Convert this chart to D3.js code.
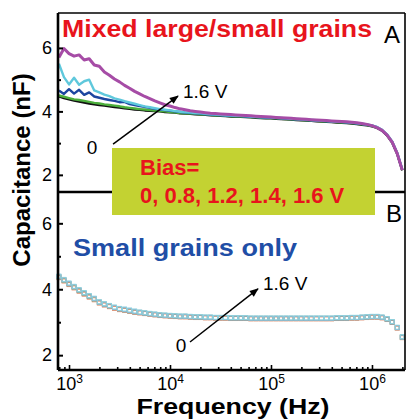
<!DOCTYPE html>
<html>
<head>
<meta charset="utf-8">
<script src="https://d3js.org/d3.v7.min.js"></script>
<style>
  body { margin: 0; background: #fff; }
  svg { display: block; font-family: "Liberation Sans", Arial, sans-serif; }
</style>
</head>
<body>
<div id="chart"></div>
<script>
//frequency grid, as log10(Hz)
var freqExp = [
  2.90, 2.95, 3.00, 3.05, 3.10, 3.15, 3.20, 3.25, 3.30, 3.35,
  3.40, 3.45, 3.50, 3.55, 3.60, 3.65, 3.70, 3.75, 3.80, 3.85,
  3.90, 3.95, 4.00, 4.05, 4.10, 4.15, 4.20, 4.25, 4.30, 4.35,
  4.40, 4.45, 4.50, 4.55, 4.60, 4.65, 4.70, 4.75, 4.80, 4.85,
  4.90, 4.95, 5.00, 5.05, 5.10, 5.15, 5.20, 5.25, 5.30, 5.35,
  5.40, 5.45, 5.50, 5.55, 5.60, 5.65, 5.70, 5.75, 5.80, 5.85,
  5.90, 5.95, 6.00, 6.05, 6.10, 6.15, 6.20, 6.25, 6.30
];

var biasValues = ["0", "0.8", "1.2", "1.4", "1.6"];

//panel A: mixed large/small grains (nF)
var mixed0V = [
  4.47, 4.42, 4.38, 4.34, 4.31, 4.28, 4.25, 4.22, 4.20, 4.18,
  4.16, 4.14, 4.12, 4.10, 4.08, 4.06, 4.05, 4.03, 4.02, 4.01,
  4.00, 3.98, 3.97, 3.96, 3.94, 3.93, 3.92, 3.91, 3.90, 3.89,
  3.88, 3.87, 3.86, 3.85, 3.84, 3.83, 3.83, 3.82, 3.81, 3.80,
  3.79, 3.78, 3.78, 3.77, 3.76, 3.75, 3.74, 3.73, 3.72, 3.71,
  3.70, 3.69, 3.68, 3.67, 3.66, 3.65, 3.64, 3.63, 3.62, 3.60,
  3.58, 3.56, 3.53, 3.48, 3.39, 3.24, 3.02, 2.66, 2.14
];
var mixed08V = [
  4.50, 4.46, 4.42, 4.38, 4.36, 4.33, 4.30, 4.27, 4.25, 4.22,
  4.20, 4.18, 4.16, 4.13, 4.11, 4.09, 4.07, 4.06, 4.04, 4.03,
  4.01, 4.00, 3.98, 3.97, 3.95, 3.94, 3.93, 3.92, 3.91, 3.90,
  3.89, 3.88, 3.87, 3.86, 3.85, 3.84, 3.84, 3.83, 3.82, 3.81,
  3.80, 3.79, 3.79, 3.78, 3.77, 3.76, 3.75, 3.74, 3.73, 3.72,
  3.71, 3.70, 3.69, 3.68, 3.67, 3.66, 3.65, 3.64, 3.63, 3.61,
  3.59, 3.57, 3.54, 3.49, 3.40, 3.25, 3.03, 2.67, 2.15
];
var mixed12V = [
  4.66, 4.55, 4.70, 4.56, 4.68, 4.52, 4.60, 4.47, 4.43, 4.39,
  4.36, 4.33, 4.29, 4.30, 4.23, 4.20, 4.17, 4.14, 4.11, 4.08,
  4.06, 4.04, 4.02, 4.00, 3.98, 3.96, 3.95, 3.94, 3.93, 3.91,
  3.90, 3.89, 3.88, 3.87, 3.86, 3.85, 3.85, 3.84, 3.83, 3.82,
  3.81, 3.80, 3.80, 3.79, 3.78, 3.77, 3.76, 3.75, 3.74, 3.73,
  3.72, 3.71, 3.70, 3.69, 3.68, 3.67, 3.66, 3.65, 3.64, 3.62,
  3.60, 3.58, 3.55, 3.50, 3.41, 3.26, 3.04, 2.68, 2.16
];
var mixed14V = [
  5.50, 5.08, 4.85, 5.06, 4.84, 4.95, 5.00, 4.66, 4.60, 4.53,
  4.48, 4.41, 4.37, 4.32, 4.28, 4.24, 4.20, 4.16, 4.13, 4.10,
  4.07, 4.05, 4.03, 4.01, 3.99, 3.97, 3.96, 3.95, 3.94, 3.92,
  3.91, 3.90, 3.89, 3.88, 3.87, 3.86, 3.86, 3.85, 3.84, 3.83,
  3.82, 3.81, 3.81, 3.80, 3.79, 3.78, 3.77, 3.76, 3.75, 3.74,
  3.73, 3.72, 3.71, 3.70, 3.69, 3.68, 3.67, 3.66, 3.65, 3.63,
  3.61, 3.59, 3.56, 3.51, 3.42, 3.27, 3.05, 2.69, 2.17
];
var mixed16V = [
  5.70, 5.98, 5.82, 5.74, 5.78, 5.62, 5.66, 5.46, 5.42, 5.24,
  5.14, 5.02, 4.93, 4.82, 4.73, 4.63, 4.55, 4.47, 4.40, 4.33,
  4.27, 4.21, 4.17, 4.12, 4.08, 4.05, 4.02, 4.00, 3.98, 3.96,
  3.94, 3.93, 3.92, 3.91, 3.90, 3.89, 3.88, 3.87, 3.86, 3.85,
  3.84, 3.83, 3.82, 3.81, 3.80, 3.79, 3.78, 3.77, 3.76, 3.75,
  3.74, 3.73, 3.72, 3.71, 3.70, 3.69, 3.68, 3.67, 3.66, 3.64,
  3.62, 3.59, 3.55, 3.49, 3.40, 3.25, 3.03, 2.67, 2.15
];

//panel B: small grains only (nF)
var small0V = [
  4.35, 4.25, 4.14, 4.04, 3.94, 3.85, 3.76, 3.68, 3.58, 3.52,
  3.47, 3.42, 3.38, 3.36, 3.33, 3.30, 3.28, 3.26, 3.24, 3.22,
  3.20, 3.19, 3.18, 3.17, 3.16, 3.16, 3.15, 3.14, 3.14, 3.13,
  3.13, 3.12, 3.12, 3.12, 3.11, 3.11, 3.11, 3.11, 3.10, 3.10,
  3.10, 3.10, 3.10, 3.10, 3.10, 3.10, 3.10, 3.10, 3.10, 3.10,
  3.10, 3.10, 3.10, 3.10, 3.10, 3.11, 3.11, 3.11, 3.12, 3.12,
  3.13, 3.14, 3.15, 3.15, 3.13, 3.08, 2.99, 2.82, 2.53
];
var small08V = [
  4.37, 4.27, 4.16, 4.06, 3.96, 3.87, 3.78, 3.70, 3.60, 3.54,
  3.49, 3.44, 3.40, 3.37, 3.34, 3.31, 3.29, 3.27, 3.25, 3.23,
  3.21, 3.20, 3.19, 3.18, 3.17, 3.17, 3.16, 3.15, 3.15, 3.14,
  3.14, 3.13, 3.13, 3.13, 3.12, 3.12, 3.12, 3.12, 3.11, 3.11,
  3.11, 3.11, 3.11, 3.11, 3.11, 3.11, 3.11, 3.11, 3.11, 3.11,
  3.11, 3.11, 3.11, 3.11, 3.11, 3.12, 3.12, 3.12, 3.13, 3.13,
  3.14, 3.15, 3.16, 3.16, 3.14, 3.09, 3.00, 2.83, 2.54
];
var small12V = [
  4.38, 4.28, 4.17, 4.07, 3.97, 3.88, 3.79, 3.71, 3.61, 3.55,
  3.50, 3.45, 3.41, 3.38, 3.35, 3.32, 3.30, 3.28, 3.26, 3.24,
  3.22, 3.21, 3.20, 3.19, 3.18, 3.18, 3.17, 3.16, 3.16, 3.15,
  3.15, 3.14, 3.14, 3.14, 3.13, 3.13, 3.13, 3.13, 3.12, 3.12,
  3.12, 3.12, 3.12, 3.12, 3.12, 3.12, 3.12, 3.12, 3.12, 3.12,
  3.12, 3.12, 3.12, 3.12, 3.12, 3.13, 3.13, 3.13, 3.14, 3.14,
  3.15, 3.16, 3.17, 3.17, 3.15, 3.10, 3.01, 2.84, 2.55
];
var small14V = [
  4.39, 4.29, 4.18, 4.08, 3.98, 3.89, 3.80, 3.72, 3.61, 3.55,
  3.50, 3.45, 3.41, 3.39, 3.36, 3.33, 3.30, 3.28, 3.26, 3.24,
  3.22, 3.21, 3.20, 3.19, 3.18, 3.18, 3.17, 3.16, 3.16, 3.15,
  3.15, 3.14, 3.14, 3.14, 3.13, 3.13, 3.13, 3.13, 3.12, 3.12,
  3.12, 3.12, 3.12, 3.12, 3.12, 3.12, 3.12, 3.12, 3.12, 3.12,
  3.12, 3.12, 3.12, 3.12, 3.12, 3.13, 3.13, 3.13, 3.14, 3.14,
  3.15, 3.16, 3.17, 3.17, 3.15, 3.10, 3.01, 2.84, 2.55
];
var small16V = [
  4.40, 4.30, 4.19, 4.09, 3.99, 3.90, 3.81, 3.73, 3.62, 3.56,
  3.51, 3.46, 3.42, 3.40, 3.37, 3.34, 3.31, 3.29, 3.27, 3.25,
  3.23, 3.22, 3.21, 3.20, 3.19, 3.19, 3.18, 3.17, 3.17, 3.16,
  3.16, 3.15, 3.15, 3.15, 3.14, 3.14, 3.14, 3.14, 3.13, 3.13,
  3.13, 3.13, 3.13, 3.13, 3.13, 3.13, 3.13, 3.13, 3.13, 3.13,
  3.13, 3.13, 3.13, 3.13, 3.13, 3.14, 3.14, 3.14, 3.15, 3.15,
  3.16, 3.17, 3.18, 3.18, 3.16, 3.11, 3.02, 2.85, 2.56
];

var mixedColors = ["#111111", "#4caf3c", "#1d46a0", "#5fc8dc", "#a64ca6"];
var smallColors = ["#e0805a", "#a0a0a0", "#8cbf8c", "#88a8d8", "#8fd3de"];

var yMajorTicks = [2, 4, 6];
var yMinorTicks = [3, 5];
var xMajorTicks = [1e3, 1e4, 1e5, 1e6];

//svg parameters
var svgWidth = 407;
var svgHeight = 419;
var plot = { left: 58, right: 405, top: 13, mid: 192, bottom: 370 };

var svg = d3.select("#chart")
  .append("svg")
  .attr("width", svgWidth)
  .attr("height", svgHeight);

//scales
var xScale = d3.scaleLog()
  .domain([Math.pow(10, 2.891), Math.pow(10, 6.327)])
  .range([plot.left, plot.right]);
var yA = d3.scaleLinear().domain([1.46, 7.1]).range([plot.mid, plot.top]);
var yB = d3.scaleLinear().domain([1.55, 6.95]).range([plot.bottom, plot.mid]);

var font = '"Liberation Sans", Arial, sans-serif';

//arrow head
svg.append("defs").append("marker")
  .attr("id", "arrow")
  .attr("viewBox", "0 0 10 10")
  .attr("refX", 9)
  .attr("refY", 5)
  .attr("markerUnits", "userSpaceOnUse")
  .attr("markerWidth", 11)
  .attr("markerHeight", 9)
  .attr("orient", "auto")
  .append("path")
  .attr("d", "M0,1 L10,5 L0,9 z")
  .attr("fill", "#000");

//panel A lines
var mixedSeries = [mixed0V, mixed08V, mixed12V, mixed14V, mixed16V];
var lineA = d3.line()
  .x((d, i) => xScale(Math.pow(10, freqExp[i])))
  .y(d => yA(d));

svg.append("g").selectAll("path")
  .data(mixedSeries)
  .enter()
  .append("path")
  .attr("d", lineA)
  .attr("fill", "none")
  .attr("stroke", (d, i) => mixedColors[i])
  .attr("stroke-width", (d, i) => i == 4 ? 3 : 2.4)
  .attr("stroke-linejoin", "round");

//panel B open squares
var smallSeries = [small0V, small08V, small12V, small14V, small16V];
var sq = 4;
smallSeries.forEach(function(series, k) {
  svg.append("g").selectAll("rect")
    .data(series)
    .enter()
    .append("rect")
    .attr("x", (d, i) => xScale(Math.pow(10, freqExp[i])) - sq / 2)
    .attr("y", d => yB(d) - sq / 2)
    .attr("width", sq)
    .attr("height", sq)
    .attr("fill", "none")
    .attr("stroke", smallColors[k])
    .attr("stroke-width", 0.9);
});

//y axes: inward tick lines from d3, labels written next to them
[yA, yB].forEach(function(scale) {
  var major = svg.append("g")
    .attr("transform", `translate(${plot.left},0)`)
    .call(d3.axisLeft(scale).tickValues(yMajorTicks).tickSize(-5).tickFormat(""));
  var minor = svg.append("g")
    .attr("transform", `translate(${plot.left},0)`)
    .call(d3.axisLeft(scale).tickValues(yMinorTicks).tickSize(-3).tickFormat(""));
  [major, minor].forEach(function(g) {
    g.select(".domain").remove();
    g.selectAll("line").attr("stroke", "#000").attr("stroke-width", 2);
  });
  svg.append("g").selectAll("text")
    .data(yMajorTicks)
    .enter()
    .append("text")
    .attr("x", plot.left - 6)
    .attr("y", d => scale(d))
    .attr("dy", "0.35em")
    .attr("text-anchor", "end")
    .attr("font-family", font)
    .attr("font-size", "18px")
    .attr("fill", "#000")
    .text(d => d);
});

//x axis with 10^n labels
var xMajor = svg.append("g")
  .attr("transform", `translate(0,${plot.bottom})`)
  .call(d3.axisBottom(xScale).tickValues(xMajorTicks).tickSize(-5).tickPadding(7).tickFormat(""));
var xMinor = svg.append("g")
  .attr("transform", `translate(0,${plot.bottom})`)
  .call(d3.axisBottom(xScale)
    .tickValues(xScale.ticks().filter(d => xMajorTicks.indexOf(d) < 0))
    .tickSize(-3).tickFormat(""));
[xMajor, xMinor].forEach(function(g) {
  g.select(".domain").remove();
  g.selectAll("line").attr("stroke", "#000").attr("stroke-width", 1.6);
});
xMajor.selectAll(".tick text")
  .attr("font-family", font)
  .attr("font-size", "18px")
  .attr("fill", "#000")
  .each(function(d) {
    var t = d3.select(this);
    t.append("tspan").text("10");
    t.append("tspan")
      .attr("dy", "-0.55em")
      .attr("font-size", "12px")
      .text(Math.round(Math.log10(d)));
  });

//frame
var frame = svg.append("g").attr("stroke", "#000");
frame.append("line").attr("x1", plot.left).attr("x2", plot.left).attr("y1", plot.top).attr("y2", plot.bottom).attr("stroke-width", 2.6);
frame.append("line").attr("x1", plot.left).attr("x2", plot.right).attr("y1", plot.bottom).attr("y2", plot.bottom).attr("stroke-width", 2.6);
frame.append("line").attr("x1", plot.left).attr("x2", plot.right).attr("y1", plot.mid).attr("y2", plot.mid).attr("stroke-width", 2.4);
frame.append("line").attr("x1", plot.left).attr("x2", plot.right).attr("y1", plot.top).attr("y2", plot.top).attr("stroke-width", 1.6);
frame.append("line").attr("x1", plot.right).attr("x2", plot.right).attr("y1", plot.top).attr("y2", plot.bottom).attr("stroke-width", 1.6);

//arrows and bias end labels, placed in data units
function arrow(yScale, from, to) {
  svg.append("line")
    .attr("x1", xScale(from[0])).attr("y1", yScale(from[1]))
    .attr("x2", xScale(to[0])).attr("y2", yScale(to[1]))
    .attr("stroke", "#000")
    .attr("stroke-width", 1.5)
    .attr("marker-end", "url(#arrow)");
}
function note(yScale, at, txt, anchor) {
  svg.append("text")
    .attr("x", xScale(at[0]))
    .attr("y", yScale(at[1]))
    .attr("text-anchor", anchor)
    .attr("font-family", font)
    .attr("font-size", "19px")
    .attr("fill", "#000")
    .text(txt);
}
arrow(yA, [2729, 2.97], [12000, 4.48]);
note(yA, [1690, 2.66], biasValues[0], "middle");
note(yA, [13460, 4.42], biasValues[4] + " V", "start");
arrow(yB, [15780, 2.40], [74300, 4.01]);
note(yB, [12850, 2.10], biasValues[0], "middle");
note(yB, [83400, 3.98], biasValues[4] + " V", "start");

//bias box
svg.append("rect")
  .attr("x", 112)
  .attr("y", 148)
  .attr("width", 263)
  .attr("height", 67)
  .attr("fill", "#c3d232");
svg.append("text")
  .attr("x", 140).attr("y", 175)
  .attr("font-family", font).attr("font-size", "22px").attr("font-weight", "bold")
  .attr("fill", "#e8141c")
  .text("Bias=");
svg.append("text")
  .attr("x", 140).attr("y", 203)
  .attr("font-family", font).attr("font-size", "22px").attr("font-weight", "bold")
  .attr("fill", "#e8141c")
  .text(biasValues.join(", ") + " V");

//panel titles
svg.append("text")
  .attr("x", 62).attr("y", 37)
  .attr("font-family", font).attr("font-size", "24px").attr("font-weight", "bold")
  .attr("fill", "#e8141c")
  .attr("textLength", 310).attr("lengthAdjust", "spacingAndGlyphs")
  .text("Mixed large/small grains");
svg.append("text")
  .attr("x", 73).attr("y", 256)
  .attr("font-family", font).attr("font-size", "24px").attr("font-weight", "bold")
  .attr("fill", "#1f4ea6")
  .attr("textLength", 224).attr("lengthAdjust", "spacingAndGlyphs")
  .text("Small grains only");
svg.append("text")
  .attr("x", 384).attr("y", 43)
  .attr("font-family", font).attr("font-size", "24px")
  .text("A");
svg.append("text")
  .attr("x", 386).attr("y", 222)
  .attr("font-family", font).attr("font-size", "24px")
  .text("B");

//axes labels
svg.append("text")
  .attr("transform", "translate(30,170) rotate(-90)")
  .attr("text-anchor", "middle")
  .attr("font-family", font).attr("font-size", "24px").attr("font-weight", "bold")
  .text("Capacitance (nF)");
svg.append("text")
  .attr("x", 233).attr("y", 414)
  .attr("text-anchor", "middle")
  .attr("font-family", font).attr("font-size", "22px").attr("font-weight", "bold")
  .attr("textLength", 193).attr("lengthAdjust", "spacingAndGlyphs")
  .text("Frequency (Hz)");
</script>
</body>
</html>
